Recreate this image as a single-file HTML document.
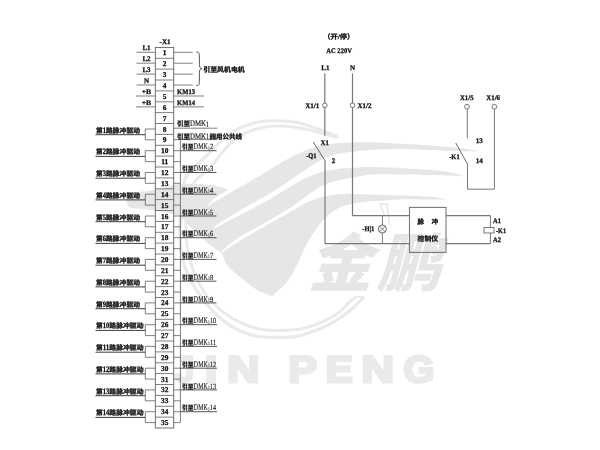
<!DOCTYPE html>
<html lang="zh"><head><meta charset="utf-8"><title>接线图</title>
<style>
html,body{margin:0;padding:0;background:#fff}
body{width:600px;height:450px;overflow:hidden}
svg{display:block;text-rendering:geometricPrecision}
.s{font-family:"Liberation Serif","Noto Serif CJK SC",serif;font-weight:bold;fill:#0a0a0a;stroke:#0a0a0a;stroke-width:0.25}
.c{font-family:"Liberation Serif","Noto Sans CJK SC",sans-serif;font-weight:bold;fill:#0a0a0a;stroke:#0a0a0a;stroke-width:0.28}
.wk{font-family:"Noto Sans CJK SC",sans-serif;font-weight:900}
.wj{font-family:"Liberation Sans",sans-serif;font-weight:bold}
.t{font-family:"Liberation Serif",serif;font-weight:normal;fill:#1a1a1a;stroke:#1a1a1a;stroke-width:0.18}
</style></head><body>
<svg width="600" height="450" viewBox="0 0 600 450">
<rect width="600" height="450" fill="#fff"/>
<g id="wm" filter="url(#soft2)">
<path d="M364.0,297.0 C362.2,298.8 357.0,304.5 353.0,308.0 C349.0,311.5 345.0,314.8 340.0,318.0 C335.0,321.2 328.6,324.9 323.0,327.5 C317.4,330.1 311.4,332.0 306.7,333.5 C302.0,335.0 301.1,336.0 295.0,336.6 C288.9,337.2 277.5,337.6 270.0,337.3 C262.5,337.0 256.4,336.4 250.0,334.6 C243.6,332.8 237.2,330.0 231.7,326.7 C226.1,323.4 221.1,319.2 216.7,315.0 C212.2,310.8 208.6,306.2 205.0,301.7 C201.4,297.2 197.7,292.1 195.0,288.0 C192.3,283.9 191.0,281.5 189.0,277.0 C187.0,272.5 184.4,266.3 183.0,261.0 C181.6,255.7 181.0,250.5 180.5,245.0 C180.0,239.5 179.9,233.5 180.0,228.0 C180.1,222.5 180.6,217.5 181.0,212.0 C181.4,206.5 181.8,200.5 182.5,195.0 C183.2,189.5 182.9,183.7 185.0,179.0 C187.1,174.3 191.7,170.3 195.0,166.7 C198.3,163.1 201.3,161.1 205.0,157.5 C208.7,153.9 212.3,149.3 217.0,145.0 C221.7,140.7 227.5,135.2 233.0,131.7 C238.5,128.2 244.3,125.8 250.0,124.0 C255.7,122.2 261.5,121.5 267.0,121.0 C272.5,120.5 277.5,120.7 283.0,121.0 C288.5,121.3 295.2,122.0 300.0,123.0 C304.8,124.0 307.8,125.6 312.0,127.0 C316.2,128.4 320.7,129.8 325.0,131.5 C329.3,133.2 335.8,136.1 338.0,137.0 " fill="none" stroke="#e9ebeb" stroke-width="3.2" stroke-linecap="butt"/>
<path d="M356.0,297.0 C355.0,297.8 352.7,299.2 350.0,301.7 C347.3,304.1 344.5,308.4 340.0,311.7 C335.5,315.0 328.6,319.1 323.0,321.7 C317.4,324.3 311.4,326.1 306.7,327.5 C302.0,328.9 301.1,329.3 295.0,329.8 C288.9,330.3 277.5,330.9 270.0,330.3 C262.5,329.8 256.4,328.6 250.0,326.5 C243.6,324.4 237.2,321.3 231.7,318.0 C226.1,314.7 221.1,310.9 216.7,306.7 C212.2,302.5 208.3,297.6 205.0,293.0 C201.7,288.4 199.4,284.2 197.0,279.0 C194.6,273.8 192.2,267.7 190.5,262.0 C188.8,256.3 187.8,250.7 187.0,245.0 C186.2,239.3 186.1,233.5 186.0,228.0 C185.9,222.5 186.2,217.2 186.5,212.0 C186.8,206.8 187.1,201.3 188.0,197.0 C188.9,192.7 190.3,189.2 192.0,186.0 C193.7,182.8 195.0,181.0 198.0,178.0 C201.0,175.0 206.2,172.0 210.0,168.0 C213.8,164.0 217.2,158.5 221.0,154.0 C224.8,149.5 228.2,144.8 233.0,141.0 C237.8,137.2 244.3,133.4 250.0,131.0 C255.7,128.6 261.5,127.5 267.0,126.7 C272.5,125.9 277.5,125.8 283.0,126.0 C288.5,126.2 294.3,127.0 300.0,128.0 C305.7,129.0 310.7,130.4 317.0,132.0 C323.3,133.6 334.5,136.6 338.0,137.5 " fill="none" stroke="#e9ebeb" stroke-width="3.0" stroke-linecap="butt"/>
<path d="M356,297 L364.5,297" stroke="#e4e7e6" stroke-width="1.6" fill="none"/>
<path d="M204.0,208.5 C208.2,206.0 221.3,198.0 229.0,193.5 C236.7,189.0 243.2,185.5 250.0,181.5 C256.8,177.5 263.9,173.2 270.0,169.5 C276.1,165.8 281.2,162.5 286.7,159.5 C292.2,156.5 297.4,153.8 303.0,151.5 C308.6,149.2 314.4,147.2 320.0,145.8 C325.6,144.4 331.2,143.9 336.7,143.3 C342.2,142.8 347.4,142.7 353.0,142.5 C358.6,142.3 362.2,142.1 370.0,142.3 C377.8,142.5 390.0,143.3 400.0,143.8 C410.0,144.3 420.8,144.9 430.0,145.5 C439.2,146.1 447.0,146.6 455.0,147.5 C463.0,148.4 474.2,150.3 478.0,150.9 L478.0,151.3 C474.2,151.3 463.0,151.3 455.0,151.1 C447.0,150.9 439.2,150.3 430.0,149.9 C420.8,149.5 410.0,148.9 400.0,148.9 C390.0,148.9 377.8,149.4 370.0,149.9 C362.2,150.4 358.6,151.0 353.0,151.7 C347.4,152.4 341.4,152.9 336.7,154.0 C332.0,155.1 329.2,156.0 325.0,158.0 C320.8,160.0 315.4,163.6 311.7,165.8 C308.0,168.1 305.8,169.7 303.0,171.5 C300.2,173.3 297.8,174.8 295.0,176.7 C292.2,178.6 288.8,181.1 286.0,183.0 C283.2,184.9 281.0,186.6 278.3,188.3 C275.6,190.1 276.4,189.8 270.0,193.5 C263.6,197.2 249.5,204.9 240.0,210.5 C230.5,216.1 217.5,224.2 213.0,227.0 Z" fill="#e4e7e6"/>
<path d="M213.0,229.0 C217.5,226.7 230.5,220.0 240.0,215.0 C249.5,210.0 262.2,203.3 270.0,199.0 C277.8,194.7 281.2,192.3 286.7,189.0 C292.2,185.7 297.4,182.1 303.0,179.3 C308.6,176.6 314.4,174.2 320.0,172.5 C325.6,170.8 331.2,169.8 336.7,169.0 C342.2,168.2 347.4,168.3 353.0,168.0 C358.6,167.7 362.2,167.1 370.0,167.1 C377.8,167.1 390.0,167.5 400.0,168.0 C410.0,168.5 421.7,169.3 430.0,170.0 C438.3,170.7 444.5,171.3 450.0,172.3 C455.5,173.3 460.8,175.3 463.0,175.9 L463.0,176.3 C460.8,176.2 455.5,176.0 450.0,175.8 C444.5,175.6 438.3,175.3 430.0,175.1 C421.7,174.9 410.0,174.6 400.0,174.5 C390.0,174.4 377.8,174.2 370.0,174.7 C362.2,175.2 358.6,176.5 353.0,177.5 C347.4,178.5 342.2,179.3 336.7,180.8 C331.2,182.3 325.0,184.2 320.0,186.7 C315.0,189.2 311.2,192.8 306.7,196.0 C302.2,199.2 297.4,203.0 293.0,206.0 C288.6,209.0 284.4,211.3 280.0,214.0 C275.6,216.7 273.4,218.2 266.7,222.0 C260.0,225.8 247.4,231.9 240.0,236.7 C232.6,241.4 225.0,248.2 222.0,250.5 Z" fill="#e4e7e6"/>
<path d="M222.0,252.5 C225.0,250.5 233.7,244.6 240.0,240.7 C246.3,236.8 253.9,232.5 260.0,229.0 C266.1,225.5 271.2,222.6 276.7,219.5 C282.2,216.4 287.4,213.6 293.0,210.5 C298.6,207.4 304.4,203.4 310.0,201.0 C315.6,198.6 321.2,197.2 326.7,196.0 C332.2,194.8 337.4,194.3 343.0,194.0 C348.6,193.7 350.5,193.9 360.0,194.2 C369.5,194.4 388.3,195.1 400.0,195.5 C411.7,195.9 422.2,196.2 430.0,196.8 C437.8,197.4 444.2,198.9 447.0,199.3 L447.0,199.7 C444.2,199.7 437.8,199.6 430.0,199.6 C422.2,199.6 409.2,199.2 400.0,199.4 C390.8,199.6 381.7,200.5 375.0,201.0 C368.3,201.5 364.7,201.8 360.0,202.5 C355.3,203.2 350.9,203.8 346.7,205.0 C342.5,206.2 338.6,207.8 335.0,210.0 C331.4,212.2 327.8,215.5 325.0,218.3 C322.2,221.1 320.5,223.4 318.0,226.7 C315.5,230.0 312.5,234.1 310.0,238.3 C307.5,242.5 305.2,247.2 303.0,251.7 C300.8,256.1 299.7,259.9 297.0,265.0 C294.3,270.1 291.2,276.8 287.0,282.0 C282.8,287.2 274.5,293.7 272.0,296.0 L272.0,296.0 C269.5,295.0 262.3,293.2 257.0,290.0 C251.7,286.8 245.0,281.2 240.0,277.0 C235.0,272.8 230.0,269.1 227.0,265.0 C224.0,260.9 222.8,254.6 222.0,252.5 Z" fill="#e4e7e6"/>
<path d="M127.0,200.0 C127.5,199.0 127.0,195.3 130.0,194.0 C133.0,192.7 140.0,192.8 145.0,192.0 C150.0,191.2 155.2,190.6 160.0,189.5 C164.8,188.4 170.2,186.3 174.0,185.5 C177.8,184.7 177.8,184.6 183.0,184.5 C188.2,184.4 199.2,184.6 205.0,185.0 C210.8,185.4 214.3,186.2 218.0,187.0 C221.7,187.8 225.5,189.5 227.0,190.0 L227.0,190.0 C225.0,191.2 218.8,193.9 215.0,197.0 C211.2,200.1 205.8,206.6 204.0,208.5 L204.0,208.5 C205.5,211.8 210.0,220.7 213.0,228.0 C216.0,235.3 220.5,248.4 222.0,252.5 L222.0,252.5 C218.8,250.2 209.8,244.4 203.0,238.5 C196.2,232.6 185.8,221.1 181.0,217.0 C176.2,212.9 177.5,215.1 174.0,214.0 C170.5,212.9 164.8,211.4 160.0,210.5 C155.2,209.6 150.0,209.2 145.0,208.5 C140.0,207.8 133.0,207.9 130.0,206.5 C127.0,205.1 127.5,201.1 127.0,200.0 Z" fill="#e4e7e6" stroke="#e4e7e6" stroke-width="1.4" stroke-linejoin="round"/>
<path d="M384.8,216 L380,204 L387.2,204 L389.3,224.5" fill="none" stroke="#e4e7e6" stroke-width="1.5"/>
<text transform="translate(308,285.5) skewX(-15) scale(0.64,0.63)" x="0" y="0" font-size="100" class="wk" fill="#e4e7e6">金<tspan dx="7">鹏</tspan></text>
<text y="0" font-size="100" class="wj" fill="#e9ebeb" stroke="#e9ebeb" stroke-width="7.5" stroke-linejoin="miter" transform="translate(0,381.6) scale(1,0.3725)"><tspan x="175.1" textLength="19.4" lengthAdjust="spacingAndGlyphs">J</tspan><tspan x="205.1" textLength="12.3" lengthAdjust="spacingAndGlyphs">I</tspan><tspan x="227.2" textLength="32.3" lengthAdjust="spacingAndGlyphs">N</tspan><tspan x="270.0"> </tspan><tspan x="288.3" textLength="28.7" lengthAdjust="spacingAndGlyphs">P</tspan><tspan x="325.7" textLength="26.9" lengthAdjust="spacingAndGlyphs">E</tspan><tspan x="361.5" textLength="32.5" lengthAdjust="spacingAndGlyphs">N</tspan><tspan x="403.4" textLength="30.9" lengthAdjust="spacingAndGlyphs">G</tspan></text>
</g>
<g id="fg" filter="url(#soft)">
<rect x="155.3" y="47.4" width="18.4" height="380.6" fill="none" stroke="#606060" stroke-width="0.9"/>
<line x1="155.3" y1="58.3" x2="173.7" y2="58.3" stroke="#606060" stroke-width="0.8"/>
<line x1="155.3" y1="69.1" x2="173.7" y2="69.1" stroke="#606060" stroke-width="0.8"/>
<line x1="155.3" y1="80.0" x2="173.7" y2="80.0" stroke="#606060" stroke-width="0.8"/>
<line x1="155.3" y1="90.9" x2="173.7" y2="90.9" stroke="#606060" stroke-width="0.8"/>
<line x1="155.3" y1="101.8" x2="173.7" y2="101.8" stroke="#606060" stroke-width="0.8"/>
<line x1="155.3" y1="112.6" x2="173.7" y2="112.6" stroke="#606060" stroke-width="0.8"/>
<line x1="155.3" y1="123.5" x2="173.7" y2="123.5" stroke="#606060" stroke-width="0.8"/>
<line x1="155.3" y1="134.4" x2="173.7" y2="134.4" stroke="#606060" stroke-width="0.8"/>
<line x1="155.3" y1="145.3" x2="173.7" y2="145.3" stroke="#606060" stroke-width="0.8"/>
<line x1="155.3" y1="156.1" x2="173.7" y2="156.1" stroke="#606060" stroke-width="0.8"/>
<line x1="155.3" y1="167.0" x2="173.7" y2="167.0" stroke="#606060" stroke-width="0.8"/>
<line x1="155.3" y1="177.9" x2="173.7" y2="177.9" stroke="#606060" stroke-width="0.8"/>
<line x1="155.3" y1="188.8" x2="173.7" y2="188.8" stroke="#606060" stroke-width="0.8"/>
<line x1="155.3" y1="199.6" x2="173.7" y2="199.6" stroke="#606060" stroke-width="0.8"/>
<line x1="155.3" y1="210.5" x2="173.7" y2="210.5" stroke="#606060" stroke-width="0.8"/>
<line x1="155.3" y1="221.4" x2="173.7" y2="221.4" stroke="#606060" stroke-width="0.8"/>
<line x1="155.3" y1="232.3" x2="173.7" y2="232.3" stroke="#606060" stroke-width="0.8"/>
<line x1="155.3" y1="243.1" x2="173.7" y2="243.1" stroke="#606060" stroke-width="0.8"/>
<line x1="155.3" y1="254.0" x2="173.7" y2="254.0" stroke="#606060" stroke-width="0.8"/>
<line x1="155.3" y1="264.9" x2="173.7" y2="264.9" stroke="#606060" stroke-width="0.8"/>
<line x1="155.3" y1="275.8" x2="173.7" y2="275.8" stroke="#606060" stroke-width="0.8"/>
<line x1="155.3" y1="286.6" x2="173.7" y2="286.6" stroke="#606060" stroke-width="0.8"/>
<line x1="155.3" y1="297.5" x2="173.7" y2="297.5" stroke="#606060" stroke-width="0.8"/>
<line x1="155.3" y1="308.4" x2="173.7" y2="308.4" stroke="#606060" stroke-width="0.8"/>
<line x1="155.3" y1="319.3" x2="173.7" y2="319.3" stroke="#606060" stroke-width="0.8"/>
<line x1="155.3" y1="330.1" x2="173.7" y2="330.1" stroke="#606060" stroke-width="0.8"/>
<line x1="155.3" y1="341.0" x2="173.7" y2="341.0" stroke="#606060" stroke-width="0.8"/>
<line x1="155.3" y1="351.9" x2="173.7" y2="351.9" stroke="#606060" stroke-width="0.8"/>
<line x1="155.3" y1="362.8" x2="173.7" y2="362.8" stroke="#606060" stroke-width="0.8"/>
<line x1="155.3" y1="373.6" x2="173.7" y2="373.6" stroke="#606060" stroke-width="0.8"/>
<line x1="155.3" y1="384.5" x2="173.7" y2="384.5" stroke="#606060" stroke-width="0.8"/>
<line x1="155.3" y1="395.4" x2="173.7" y2="395.4" stroke="#606060" stroke-width="0.8"/>
<line x1="155.3" y1="406.3" x2="173.7" y2="406.3" stroke="#606060" stroke-width="0.8"/>
<line x1="155.3" y1="417.1" x2="173.7" y2="417.1" stroke="#606060" stroke-width="0.8"/>
<text x="164.7" y="55.3" font-size="7.4" text-anchor="middle" class="s">1</text>
<text x="164.7" y="66.2" font-size="7.4" text-anchor="middle" class="s">2</text>
<text x="164.7" y="77.1" font-size="7.4" text-anchor="middle" class="s">3</text>
<text x="164.7" y="88.0" font-size="7.4" text-anchor="middle" class="s">4</text>
<text x="164.7" y="98.8" font-size="7.4" text-anchor="middle" class="s">5</text>
<text x="164.7" y="109.7" font-size="7.4" text-anchor="middle" class="s">6</text>
<text x="164.7" y="120.6" font-size="7.4" text-anchor="middle" class="s">7</text>
<text x="164.7" y="131.5" font-size="7.4" text-anchor="middle" class="s">8</text>
<text x="164.7" y="142.3" font-size="7.4" text-anchor="middle" class="s">9</text>
<text x="164.7" y="153.2" font-size="7.4" text-anchor="middle" class="s">10</text>
<text x="164.7" y="164.1" font-size="7.4" text-anchor="middle" class="s">11</text>
<text x="164.7" y="175.0" font-size="7.4" text-anchor="middle" class="s">12</text>
<text x="164.7" y="185.8" font-size="7.4" text-anchor="middle" class="s">13</text>
<text x="164.7" y="196.7" font-size="7.4" text-anchor="middle" class="s">14</text>
<text x="164.7" y="207.6" font-size="7.4" text-anchor="middle" class="s">15</text>
<text x="164.7" y="218.5" font-size="7.4" text-anchor="middle" class="s">16</text>
<text x="164.7" y="229.3" font-size="7.4" text-anchor="middle" class="s">17</text>
<text x="164.7" y="240.2" font-size="7.4" text-anchor="middle" class="s">18</text>
<text x="164.7" y="251.1" font-size="7.4" text-anchor="middle" class="s">19</text>
<text x="164.7" y="261.9" font-size="7.4" text-anchor="middle" class="s">20</text>
<text x="164.7" y="272.8" font-size="7.4" text-anchor="middle" class="s">21</text>
<text x="164.7" y="283.7" font-size="7.4" text-anchor="middle" class="s">22</text>
<text x="164.7" y="294.6" font-size="7.4" text-anchor="middle" class="s">23</text>
<text x="164.7" y="305.4" font-size="7.4" text-anchor="middle" class="s">24</text>
<text x="164.7" y="316.3" font-size="7.4" text-anchor="middle" class="s">25</text>
<text x="164.7" y="327.2" font-size="7.4" text-anchor="middle" class="s">26</text>
<text x="164.7" y="338.1" font-size="7.4" text-anchor="middle" class="s">27</text>
<text x="164.7" y="348.9" font-size="7.4" text-anchor="middle" class="s">28</text>
<text x="164.7" y="359.8" font-size="7.4" text-anchor="middle" class="s">29</text>
<text x="164.7" y="370.7" font-size="7.4" text-anchor="middle" class="s">30</text>
<text x="164.7" y="381.6" font-size="7.4" text-anchor="middle" class="s">31</text>
<text x="164.7" y="392.4" font-size="7.4" text-anchor="middle" class="s">32</text>
<text x="164.7" y="403.3" font-size="7.4" text-anchor="middle" class="s">33</text>
<text x="164.7" y="414.2" font-size="7.4" text-anchor="middle" class="s">34</text>
<text x="164.7" y="425.1" font-size="7.4" text-anchor="middle" class="s">35</text>
<text x="165.0" y="44.4" font-size="7" text-anchor="middle" class="s">-X1</text>
<line x1="136.5" y1="52.3" x2="155.3" y2="52.3" stroke="#606060" stroke-width="0.8"/>
<line x1="173.7" y1="52.3" x2="192.7" y2="52.3" stroke="#606060" stroke-width="0.8"/>
<text x="146.5" y="50.0" font-size="7" text-anchor="middle" class="s">L1</text>
<line x1="136.5" y1="63.2" x2="155.3" y2="63.2" stroke="#606060" stroke-width="0.8"/>
<line x1="173.7" y1="63.2" x2="192.7" y2="63.2" stroke="#606060" stroke-width="0.8"/>
<text x="146.5" y="60.9" font-size="7" text-anchor="middle" class="s">L2</text>
<line x1="136.5" y1="74.1" x2="155.3" y2="74.1" stroke="#606060" stroke-width="0.8"/>
<line x1="173.7" y1="74.1" x2="192.7" y2="74.1" stroke="#606060" stroke-width="0.8"/>
<text x="146.5" y="71.8" font-size="7" text-anchor="middle" class="s">L3</text>
<line x1="136.5" y1="85.0" x2="155.3" y2="85.0" stroke="#606060" stroke-width="0.8"/>
<line x1="173.7" y1="85.0" x2="192.7" y2="85.0" stroke="#606060" stroke-width="0.8"/>
<text x="146.5" y="82.7" font-size="7" text-anchor="middle" class="s">N</text>
<line x1="136.0" y1="96.0" x2="155.3" y2="96.0" stroke="#606060" stroke-width="0.8"/>
<line x1="173.7" y1="96.0" x2="204.0" y2="96.0" stroke="#606060" stroke-width="0.8"/>
<text x="146.5" y="93.8" font-size="7" text-anchor="middle" class="s" textLength="9.4" lengthAdjust="spacingAndGlyphs">+B</text>
<text x="177.0" y="94.2" font-size="7" text-anchor="start" class="s" textLength="18.0" lengthAdjust="spacingAndGlyphs">KM13</text>
<line x1="136.0" y1="106.9" x2="155.3" y2="106.9" stroke="#606060" stroke-width="0.8"/>
<line x1="173.7" y1="106.9" x2="204.0" y2="106.9" stroke="#606060" stroke-width="0.8"/>
<text x="146.5" y="104.7" font-size="7" text-anchor="middle" class="s" textLength="9.4" lengthAdjust="spacingAndGlyphs">+B</text>
<text x="177.0" y="105.1" font-size="7" text-anchor="start" class="s" textLength="18.0" lengthAdjust="spacingAndGlyphs">KM14</text>
<path d="M196.2,52 C199.4,52 199.4,53.5 199.4,56 L199.4,64.5 C199.4,67 200,68.3 202,68.6 C200,68.9 199.4,70.2 199.4,72.7 L199.4,81.5 C199.4,84 199.4,85.6 196.2,85.6" fill="none" stroke="#444" stroke-width="0.9"/>
<text x="203.3" y="71.6" font-size="6.9" text-anchor="start" class="c" textLength="41.4" lengthAdjust="spacingAndGlyphs">引至风机电机</text>
<polyline points="155.3,129.0 145.3,129.0 145.3,139.8 155.3,139.8" fill="none" stroke="#606060" stroke-width="0.8"/>
<line x1="95.5" y1="134.7" x2="145.3" y2="134.7" stroke="#3c3c3c" stroke-width="1.0"/>
<text x="96" y="132.7" class="c" font-size="6.7"><tspan textLength="6.7" lengthAdjust="spacingAndGlyphs">第</tspan><tspan class="s" font-size="8.2" textLength="3.3" lengthAdjust="spacingAndGlyphs">1</tspan><tspan textLength="34.0" lengthAdjust="spacingAndGlyphs">路脉冲驱动</tspan></text>
<polyline points="155.3,150.7 145.3,150.7 145.3,161.6 155.3,161.6" fill="none" stroke="#606060" stroke-width="0.8"/>
<line x1="95.5" y1="156.4" x2="145.3" y2="156.4" stroke="#3c3c3c" stroke-width="1.0"/>
<text x="96" y="154.4" class="c" font-size="6.7"><tspan textLength="6.7" lengthAdjust="spacingAndGlyphs">第</tspan><tspan class="s" font-size="8.2" textLength="3.3" lengthAdjust="spacingAndGlyphs">2</tspan><tspan textLength="34.0" lengthAdjust="spacingAndGlyphs">路脉冲驱动</tspan></text>
<polyline points="155.3,172.5 145.3,172.5 145.3,183.3 155.3,183.3" fill="none" stroke="#606060" stroke-width="0.8"/>
<line x1="95.5" y1="178.2" x2="145.3" y2="178.2" stroke="#3c3c3c" stroke-width="1.0"/>
<text x="96" y="176.2" class="c" font-size="6.7"><tspan textLength="6.7" lengthAdjust="spacingAndGlyphs">第</tspan><tspan class="s" font-size="8.2" textLength="3.3" lengthAdjust="spacingAndGlyphs">3</tspan><tspan textLength="34.0" lengthAdjust="spacingAndGlyphs">路脉冲驱动</tspan></text>
<polyline points="155.3,194.2 145.3,194.2 145.3,205.1 155.3,205.1" fill="none" stroke="#606060" stroke-width="0.8"/>
<line x1="95.5" y1="199.9" x2="145.3" y2="199.9" stroke="#3c3c3c" stroke-width="1.0"/>
<text x="96" y="197.9" class="c" font-size="6.7"><tspan textLength="6.7" lengthAdjust="spacingAndGlyphs">第</tspan><tspan class="s" font-size="8.2" textLength="3.3" lengthAdjust="spacingAndGlyphs">4</tspan><tspan textLength="34.0" lengthAdjust="spacingAndGlyphs">路脉冲驱动</tspan></text>
<polyline points="155.3,216.0 145.3,216.0 145.3,226.8 155.3,226.8" fill="none" stroke="#606060" stroke-width="0.8"/>
<line x1="95.5" y1="221.7" x2="145.3" y2="221.7" stroke="#3c3c3c" stroke-width="1.0"/>
<text x="96" y="219.7" class="c" font-size="6.7"><tspan textLength="6.7" lengthAdjust="spacingAndGlyphs">第</tspan><tspan class="s" font-size="8.2" textLength="3.3" lengthAdjust="spacingAndGlyphs">5</tspan><tspan textLength="34.0" lengthAdjust="spacingAndGlyphs">路脉冲驱动</tspan></text>
<polyline points="155.3,237.7 145.3,237.7 145.3,248.6 155.3,248.6" fill="none" stroke="#606060" stroke-width="0.8"/>
<line x1="95.5" y1="243.4" x2="145.3" y2="243.4" stroke="#3c3c3c" stroke-width="1.0"/>
<text x="96" y="241.4" class="c" font-size="6.7"><tspan textLength="6.7" lengthAdjust="spacingAndGlyphs">第</tspan><tspan class="s" font-size="8.2" textLength="3.3" lengthAdjust="spacingAndGlyphs">6</tspan><tspan textLength="34.0" lengthAdjust="spacingAndGlyphs">路脉冲驱动</tspan></text>
<polyline points="155.3,259.4 145.3,259.4 145.3,270.3 155.3,270.3" fill="none" stroke="#606060" stroke-width="0.8"/>
<line x1="95.5" y1="265.2" x2="145.3" y2="265.2" stroke="#3c3c3c" stroke-width="1.0"/>
<text x="96" y="263.2" class="c" font-size="6.7"><tspan textLength="6.7" lengthAdjust="spacingAndGlyphs">第</tspan><tspan class="s" font-size="8.2" textLength="3.3" lengthAdjust="spacingAndGlyphs">7</tspan><tspan textLength="34.0" lengthAdjust="spacingAndGlyphs">路脉冲驱动</tspan></text>
<polyline points="155.3,281.2 145.3,281.2 145.3,292.1 155.3,292.1" fill="none" stroke="#606060" stroke-width="0.8"/>
<line x1="95.5" y1="286.9" x2="145.3" y2="286.9" stroke="#3c3c3c" stroke-width="1.0"/>
<text x="96" y="284.9" class="c" font-size="6.7"><tspan textLength="6.7" lengthAdjust="spacingAndGlyphs">第</tspan><tspan class="s" font-size="8.2" textLength="3.3" lengthAdjust="spacingAndGlyphs">8</tspan><tspan textLength="34.0" lengthAdjust="spacingAndGlyphs">路脉冲驱动</tspan></text>
<polyline points="155.3,302.9 145.3,302.9 145.3,313.8 155.3,313.8" fill="none" stroke="#606060" stroke-width="0.8"/>
<line x1="95.5" y1="308.7" x2="145.3" y2="308.7" stroke="#3c3c3c" stroke-width="1.0"/>
<text x="96" y="306.7" class="c" font-size="6.7"><tspan textLength="6.7" lengthAdjust="spacingAndGlyphs">第</tspan><tspan class="s" font-size="8.2" textLength="3.3" lengthAdjust="spacingAndGlyphs">9</tspan><tspan textLength="34.0" lengthAdjust="spacingAndGlyphs">路脉冲驱动</tspan></text>
<polyline points="155.3,324.7 145.3,324.7 145.3,335.6 155.3,335.6" fill="none" stroke="#606060" stroke-width="0.8"/>
<line x1="95.5" y1="330.4" x2="145.3" y2="330.4" stroke="#3c3c3c" stroke-width="1.0"/>
<text x="96" y="328.4" class="c" font-size="6.7"><tspan textLength="6.7" lengthAdjust="spacingAndGlyphs">第</tspan><tspan class="s" font-size="8.2" textLength="6.6" lengthAdjust="spacingAndGlyphs">10</tspan><tspan textLength="34.2" lengthAdjust="spacingAndGlyphs">路脉冲驱动</tspan></text>
<polyline points="155.3,346.4 145.3,346.4 145.3,357.3 155.3,357.3" fill="none" stroke="#606060" stroke-width="0.8"/>
<line x1="95.5" y1="352.2" x2="145.3" y2="352.2" stroke="#3c3c3c" stroke-width="1.0"/>
<text x="96" y="350.2" class="c" font-size="6.7"><tspan textLength="6.7" lengthAdjust="spacingAndGlyphs">第</tspan><tspan class="s" font-size="8.2" textLength="6.6" lengthAdjust="spacingAndGlyphs">11</tspan><tspan textLength="34.2" lengthAdjust="spacingAndGlyphs">路脉冲驱动</tspan></text>
<polyline points="155.3,368.2 145.3,368.2 145.3,379.1 155.3,379.1" fill="none" stroke="#606060" stroke-width="0.8"/>
<line x1="95.5" y1="373.9" x2="145.3" y2="373.9" stroke="#3c3c3c" stroke-width="1.0"/>
<text x="96" y="371.9" class="c" font-size="6.7"><tspan textLength="6.7" lengthAdjust="spacingAndGlyphs">第</tspan><tspan class="s" font-size="8.2" textLength="6.6" lengthAdjust="spacingAndGlyphs">12</tspan><tspan textLength="34.2" lengthAdjust="spacingAndGlyphs">路脉冲驱动</tspan></text>
<polyline points="155.3,389.9 145.3,389.9 145.3,400.8 155.3,400.8" fill="none" stroke="#606060" stroke-width="0.8"/>
<line x1="95.5" y1="395.7" x2="145.3" y2="395.7" stroke="#3c3c3c" stroke-width="1.0"/>
<text x="96" y="393.7" class="c" font-size="6.7"><tspan textLength="6.7" lengthAdjust="spacingAndGlyphs">第</tspan><tspan class="s" font-size="8.2" textLength="6.6" lengthAdjust="spacingAndGlyphs">13</tspan><tspan textLength="34.2" lengthAdjust="spacingAndGlyphs">路脉冲驱动</tspan></text>
<polyline points="155.3,411.7 145.3,411.7 145.3,422.6 155.3,422.6" fill="none" stroke="#606060" stroke-width="0.8"/>
<line x1="95.5" y1="417.4" x2="145.3" y2="417.4" stroke="#3c3c3c" stroke-width="1.0"/>
<text x="96" y="415.4" class="c" font-size="6.7"><tspan textLength="6.7" lengthAdjust="spacingAndGlyphs">第</tspan><tspan class="s" font-size="8.2" textLength="6.6" lengthAdjust="spacingAndGlyphs">14</tspan><tspan textLength="34.2" lengthAdjust="spacingAndGlyphs">路脉冲驱动</tspan></text>
<line x1="173.7" y1="128.2" x2="217.3" y2="128.2" stroke="#606060" stroke-width="0.8"/>
<text x="177" y="126.3" class="c" font-size="6.6"><tspan textLength="13" lengthAdjust="spacingAndGlyphs">引至</tspan><tspan class="t" font-size="8.6" textLength="16" lengthAdjust="spacingAndGlyphs">DMK</tspan><tspan class="t" font-size="8.4" dy="0.5" textLength="3" lengthAdjust="spacingAndGlyphs">1</tspan></text>
<line x1="173.7" y1="139.6" x2="216.0" y2="139.6" stroke="#606060" stroke-width="0.8"/>
<text x="177" y="138.7" class="c" font-size="6.6"><tspan textLength="13" lengthAdjust="spacingAndGlyphs">引至</tspan><tspan class="t" font-size="8.6" textLength="16" lengthAdjust="spacingAndGlyphs">DMK</tspan><tspan class="t" font-size="8.4" dy="0.5" textLength="3" lengthAdjust="spacingAndGlyphs">1</tspan><tspan dy="-0.5" dx="0.4" textLength="32.5" lengthAdjust="spacingAndGlyphs">阀用公共线</tspan></text>
<line x1="180.4" y1="139.6" x2="180.4" y2="422.6" stroke="#606060" stroke-width="0.8"/>
<line x1="173.7" y1="150.7" x2="180.4" y2="150.7" stroke="#606060" stroke-width="0.8"/>
<line x1="173.7" y1="161.6" x2="180.4" y2="161.6" stroke="#606060" stroke-width="0.8"/>
<line x1="173.7" y1="172.5" x2="180.4" y2="172.5" stroke="#606060" stroke-width="0.8"/>
<line x1="173.7" y1="183.3" x2="180.4" y2="183.3" stroke="#606060" stroke-width="0.8"/>
<line x1="173.7" y1="194.2" x2="180.4" y2="194.2" stroke="#606060" stroke-width="0.8"/>
<line x1="173.7" y1="205.1" x2="180.4" y2="205.1" stroke="#606060" stroke-width="0.8"/>
<line x1="173.7" y1="216.0" x2="180.4" y2="216.0" stroke="#606060" stroke-width="0.8"/>
<line x1="173.7" y1="226.8" x2="180.4" y2="226.8" stroke="#606060" stroke-width="0.8"/>
<line x1="173.7" y1="237.7" x2="180.4" y2="237.7" stroke="#606060" stroke-width="0.8"/>
<line x1="173.7" y1="248.6" x2="180.4" y2="248.6" stroke="#606060" stroke-width="0.8"/>
<line x1="173.7" y1="259.4" x2="180.4" y2="259.4" stroke="#606060" stroke-width="0.8"/>
<line x1="173.7" y1="270.3" x2="180.4" y2="270.3" stroke="#606060" stroke-width="0.8"/>
<line x1="173.7" y1="281.2" x2="180.4" y2="281.2" stroke="#606060" stroke-width="0.8"/>
<line x1="173.7" y1="292.1" x2="180.4" y2="292.1" stroke="#606060" stroke-width="0.8"/>
<line x1="173.7" y1="302.9" x2="180.4" y2="302.9" stroke="#606060" stroke-width="0.8"/>
<line x1="173.7" y1="313.8" x2="180.4" y2="313.8" stroke="#606060" stroke-width="0.8"/>
<line x1="173.7" y1="324.7" x2="180.4" y2="324.7" stroke="#606060" stroke-width="0.8"/>
<line x1="173.7" y1="335.6" x2="180.4" y2="335.6" stroke="#606060" stroke-width="0.8"/>
<line x1="173.7" y1="346.4" x2="180.4" y2="346.4" stroke="#606060" stroke-width="0.8"/>
<line x1="173.7" y1="357.3" x2="180.4" y2="357.3" stroke="#606060" stroke-width="0.8"/>
<line x1="173.7" y1="368.2" x2="180.4" y2="368.2" stroke="#606060" stroke-width="0.8"/>
<line x1="173.7" y1="379.1" x2="180.4" y2="379.1" stroke="#606060" stroke-width="0.8"/>
<line x1="173.7" y1="389.9" x2="180.4" y2="389.9" stroke="#606060" stroke-width="0.8"/>
<line x1="173.7" y1="400.8" x2="180.4" y2="400.8" stroke="#606060" stroke-width="0.8"/>
<line x1="173.7" y1="411.7" x2="180.4" y2="411.7" stroke="#606060" stroke-width="0.8"/>
<line x1="173.7" y1="422.6" x2="180.4" y2="422.6" stroke="#606060" stroke-width="0.8"/>
<line x1="180.4" y1="150.7" x2="216.5" y2="150.7" stroke="#444" stroke-width="0.9"/>
<text x="182" y="149.4" class="c" font-size="6.4"><tspan textLength="11.5" lengthAdjust="spacingAndGlyphs">引至</tspan><tspan class="t" font-size="8.8" dx="0.3" textLength="14" lengthAdjust="spacingAndGlyphs">DMK</tspan><tspan class="t" font-size="5.4" dx="0.4" dy="0.3" textLength="1.4" lengthAdjust="spacingAndGlyphs">1</tspan><tspan class="t" font-size="7.8" dx="0.5" dy="-0.3" textLength="3.2" lengthAdjust="spacingAndGlyphs">2</tspan></text>
<line x1="180.4" y1="172.5" x2="216.5" y2="172.5" stroke="#444" stroke-width="0.9"/>
<text x="182" y="171.2" class="c" font-size="6.4"><tspan textLength="11.5" lengthAdjust="spacingAndGlyphs">引至</tspan><tspan class="t" font-size="8.8" dx="0.3" textLength="14" lengthAdjust="spacingAndGlyphs">DMK</tspan><tspan class="t" font-size="5.4" dx="0.4" dy="0.3" textLength="1.4" lengthAdjust="spacingAndGlyphs">1</tspan><tspan class="t" font-size="7.8" dx="0.5" dy="-0.3" textLength="3.2" lengthAdjust="spacingAndGlyphs">3</tspan></text>
<line x1="180.4" y1="194.2" x2="216.5" y2="194.2" stroke="#444" stroke-width="0.9"/>
<text x="182" y="192.9" class="c" font-size="6.4"><tspan textLength="11.5" lengthAdjust="spacingAndGlyphs">引至</tspan><tspan class="t" font-size="8.8" dx="0.3" textLength="14" lengthAdjust="spacingAndGlyphs">DMK</tspan><tspan class="t" font-size="5.4" dx="0.4" dy="0.3" textLength="1.4" lengthAdjust="spacingAndGlyphs">1</tspan><tspan class="t" font-size="7.8" dx="0.5" dy="-0.3" textLength="3.2" lengthAdjust="spacingAndGlyphs">4</tspan></text>
<line x1="180.4" y1="216.0" x2="216.5" y2="216.0" stroke="#444" stroke-width="0.9"/>
<text x="182" y="214.7" class="c" font-size="6.4"><tspan textLength="11.5" lengthAdjust="spacingAndGlyphs">引至</tspan><tspan class="t" font-size="8.8" dx="0.3" textLength="14" lengthAdjust="spacingAndGlyphs">DMK</tspan><tspan class="t" font-size="5.4" dx="0.4" dy="0.3" textLength="1.4" lengthAdjust="spacingAndGlyphs">1</tspan><tspan class="t" font-size="7.8" dx="0.5" dy="-0.3" textLength="3.2" lengthAdjust="spacingAndGlyphs">5</tspan></text>
<line x1="180.4" y1="237.7" x2="216.5" y2="237.7" stroke="#444" stroke-width="0.9"/>
<text x="182" y="236.4" class="c" font-size="6.4"><tspan textLength="11.5" lengthAdjust="spacingAndGlyphs">引至</tspan><tspan class="t" font-size="8.8" dx="0.3" textLength="14" lengthAdjust="spacingAndGlyphs">DMK</tspan><tspan class="t" font-size="5.4" dx="0.4" dy="0.3" textLength="1.4" lengthAdjust="spacingAndGlyphs">1</tspan><tspan class="t" font-size="7.8" dx="0.5" dy="-0.3" textLength="3.2" lengthAdjust="spacingAndGlyphs">6</tspan></text>
<line x1="180.4" y1="259.4" x2="216.5" y2="259.4" stroke="#444" stroke-width="0.9"/>
<text x="182" y="258.1" class="c" font-size="6.4"><tspan textLength="11.5" lengthAdjust="spacingAndGlyphs">引至</tspan><tspan class="t" font-size="8.8" dx="0.3" textLength="14" lengthAdjust="spacingAndGlyphs">DMK</tspan><tspan class="t" font-size="5.4" dx="0.4" dy="0.3" textLength="1.4" lengthAdjust="spacingAndGlyphs">1</tspan><tspan class="t" font-size="7.8" dx="0.5" dy="-0.3" textLength="3.2" lengthAdjust="spacingAndGlyphs">7</tspan></text>
<line x1="180.4" y1="281.2" x2="216.5" y2="281.2" stroke="#444" stroke-width="0.9"/>
<text x="182" y="279.9" class="c" font-size="6.4"><tspan textLength="11.5" lengthAdjust="spacingAndGlyphs">引至</tspan><tspan class="t" font-size="8.8" dx="0.3" textLength="14" lengthAdjust="spacingAndGlyphs">DMK</tspan><tspan class="t" font-size="5.4" dx="0.4" dy="0.3" textLength="1.4" lengthAdjust="spacingAndGlyphs">1</tspan><tspan class="t" font-size="7.8" dx="0.5" dy="-0.3" textLength="3.2" lengthAdjust="spacingAndGlyphs">8</tspan></text>
<line x1="180.4" y1="302.9" x2="216.5" y2="302.9" stroke="#444" stroke-width="0.9"/>
<text x="182" y="301.6" class="c" font-size="6.4"><tspan textLength="11.5" lengthAdjust="spacingAndGlyphs">引至</tspan><tspan class="t" font-size="8.8" dx="0.3" textLength="14" lengthAdjust="spacingAndGlyphs">DMK</tspan><tspan class="t" font-size="5.4" dx="0.4" dy="0.3" textLength="1.4" lengthAdjust="spacingAndGlyphs">1</tspan><tspan class="t" font-size="7.8" dx="0.5" dy="-0.3" textLength="3.2" lengthAdjust="spacingAndGlyphs">9</tspan></text>
<line x1="180.4" y1="324.7" x2="217.0" y2="324.7" stroke="#444" stroke-width="0.9"/>
<text x="182" y="323.4" class="c" font-size="6.4"><tspan textLength="11.5" lengthAdjust="spacingAndGlyphs">引至</tspan><tspan class="t" font-size="8.8" dx="0.3" textLength="14" lengthAdjust="spacingAndGlyphs">DMK</tspan><tspan class="t" font-size="5.4" dx="0.4" dy="0.3" textLength="1.4" lengthAdjust="spacingAndGlyphs">1</tspan><tspan class="t" font-size="7.8" dx="0.5" dy="-0.3" textLength="6.0" lengthAdjust="spacingAndGlyphs">10</tspan></text>
<line x1="180.4" y1="346.4" x2="217.0" y2="346.4" stroke="#444" stroke-width="0.9"/>
<text x="182" y="345.1" class="c" font-size="6.4"><tspan textLength="11.5" lengthAdjust="spacingAndGlyphs">引至</tspan><tspan class="t" font-size="8.8" dx="0.3" textLength="14" lengthAdjust="spacingAndGlyphs">DMK</tspan><tspan class="t" font-size="5.4" dx="0.4" dy="0.3" textLength="1.4" lengthAdjust="spacingAndGlyphs">1</tspan><tspan class="t" font-size="7.8" dx="0.5" dy="-0.3" textLength="6.0" lengthAdjust="spacingAndGlyphs">11</tspan></text>
<line x1="180.4" y1="368.2" x2="217.0" y2="368.2" stroke="#444" stroke-width="0.9"/>
<text x="182" y="366.9" class="c" font-size="6.4"><tspan textLength="11.5" lengthAdjust="spacingAndGlyphs">引至</tspan><tspan class="t" font-size="8.8" dx="0.3" textLength="14" lengthAdjust="spacingAndGlyphs">DMK</tspan><tspan class="t" font-size="5.4" dx="0.4" dy="0.3" textLength="1.4" lengthAdjust="spacingAndGlyphs">1</tspan><tspan class="t" font-size="7.8" dx="0.5" dy="-0.3" textLength="6.0" lengthAdjust="spacingAndGlyphs">12</tspan></text>
<line x1="180.4" y1="389.9" x2="217.0" y2="389.9" stroke="#444" stroke-width="0.9"/>
<text x="182" y="388.6" class="c" font-size="6.4"><tspan textLength="11.5" lengthAdjust="spacingAndGlyphs">引至</tspan><tspan class="t" font-size="8.8" dx="0.3" textLength="14" lengthAdjust="spacingAndGlyphs">DMK</tspan><tspan class="t" font-size="5.4" dx="0.4" dy="0.3" textLength="1.4" lengthAdjust="spacingAndGlyphs">1</tspan><tspan class="t" font-size="7.8" dx="0.5" dy="-0.3" textLength="6.0" lengthAdjust="spacingAndGlyphs">13</tspan></text>
<line x1="180.4" y1="411.7" x2="217.0" y2="411.7" stroke="#444" stroke-width="0.9"/>
<text x="182" y="410.4" class="c" font-size="6.4"><tspan textLength="11.5" lengthAdjust="spacingAndGlyphs">引至</tspan><tspan class="t" font-size="8.8" dx="0.3" textLength="14" lengthAdjust="spacingAndGlyphs">DMK</tspan><tspan class="t" font-size="5.4" dx="0.4" dy="0.3" textLength="1.4" lengthAdjust="spacingAndGlyphs">1</tspan><tspan class="t" font-size="7.8" dx="0.5" dy="-0.3" textLength="6.0" lengthAdjust="spacingAndGlyphs">14</tspan></text>
<text x="338.7" y="39.2" font-size="6.6" text-anchor="middle" class="c" textLength="31.0" lengthAdjust="spacingAndGlyphs">（开/停）</text>
<text x="339.1" y="53.0" font-size="7" text-anchor="middle" class="s" textLength="25.7" lengthAdjust="spacingAndGlyphs">AC 220V</text>
<text x="325.4" y="70.0" font-size="7" text-anchor="middle" class="s">L1</text>
<text x="352.5" y="70.0" font-size="7" text-anchor="middle" class="s">N</text>
<line x1="324.8" y1="73.3" x2="324.8" y2="135.8" stroke="#787878" stroke-width="1.2"/>
<line x1="352.5" y1="73.3" x2="352.5" y2="215.6" stroke="#787878" stroke-width="1.2"/>
<circle cx="324.8" cy="105.3" r="2.3" fill="#fff" stroke="#555" stroke-width="0.8"/>
<circle cx="352.5" cy="105.3" r="2.3" fill="#fff" stroke="#555" stroke-width="0.8"/>
<text x="305.3" y="107.6" font-size="7" text-anchor="start" class="s" textLength="14.0" lengthAdjust="spacingAndGlyphs">X1/1</text>
<text x="357.5" y="107.6" font-size="7" text-anchor="start" class="s" textLength="14.0" lengthAdjust="spacingAndGlyphs">X1/2</text>
<line x1="313.3" y1="142.0" x2="325.0" y2="160.8" stroke="#555" stroke-width="0.9"/>
<line x1="325.0" y1="160.8" x2="325.0" y2="243.6" stroke="#787878" stroke-width="1.2"/>
<text x="320.5" y="144.8" font-size="7" text-anchor="start" class="s" textLength="8.3" lengthAdjust="spacingAndGlyphs">X1</text>
<text x="306.2" y="158.0" font-size="7" text-anchor="start" class="s" textLength="10.2" lengthAdjust="spacingAndGlyphs">-Q1</text>
<text x="331.7" y="163.3" font-size="7" text-anchor="start" class="s">2</text>
<line x1="352.5" y1="215.6" x2="409.5" y2="215.6" stroke="#787878" stroke-width="1.2"/>
<line x1="325.0" y1="243.6" x2="409.5" y2="243.6" stroke="#787878" stroke-width="1.2"/>
<line x1="382.4" y1="215.6" x2="382.4" y2="243.6" stroke="#787878" stroke-width="1.0"/>
<circle cx="382.4" cy="229" r="4.0" fill="#fff" stroke="#444" stroke-width="0.8"/>
<line x1="379.6" y1="226.2" x2="385.2" y2="231.8" stroke="#444" stroke-width="0.7"/>
<line x1="379.6" y1="231.8" x2="385.2" y2="226.2" stroke="#444" stroke-width="0.7"/>
<text x="362.3" y="230.8" font-size="7" text-anchor="start" class="s" textLength="12.0" lengthAdjust="spacingAndGlyphs">-H|1</text>
<rect x="409.5" y="207.4" width="36.5" height="45" fill="none" stroke="#787878" stroke-width="1.1"/>
<text x="417.6" y="223.6" font-size="6.6" text-anchor="start" class="c">脉</text>
<text x="431.6" y="223.6" font-size="6.6" text-anchor="start" class="c">冲</text>
<text x="427.8" y="240.6" font-size="6.6" text-anchor="middle" class="c" textLength="20.4" lengthAdjust="spacingAndGlyphs">控制仪</text>
<line x1="446.0" y1="215.6" x2="490.4" y2="215.6" stroke="#787878" stroke-width="1.2"/>
<line x1="446.0" y1="243.6" x2="490.4" y2="243.6" stroke="#787878" stroke-width="1.2"/>
<line x1="490.4" y1="215.6" x2="490.4" y2="243.6" stroke="#787878" stroke-width="1.0"/>
<rect x="484" y="227.4" width="10" height="5.6" fill="#fff" stroke="#555" stroke-width="0.8"/>
<text x="493.0" y="223.0" font-size="7" text-anchor="start" class="s" textLength="8.0" lengthAdjust="spacingAndGlyphs">A1</text>
<text x="496.0" y="232.5" font-size="7" text-anchor="start" class="s" textLength="10.0" lengthAdjust="spacingAndGlyphs">-K1</text>
<text x="493.0" y="241.5" font-size="7" text-anchor="start" class="s" textLength="8.0" lengthAdjust="spacingAndGlyphs">A2</text>
<text x="460.0" y="99.7" font-size="7" text-anchor="start" class="s" textLength="13.5" lengthAdjust="spacingAndGlyphs">X1/5</text>
<text x="486.3" y="99.7" font-size="7" text-anchor="start" class="s" textLength="13.7" lengthAdjust="spacingAndGlyphs">X1/6</text>
<circle cx="467" cy="106.7" r="2.4" fill="#fff" stroke="#555" stroke-width="0.8"/>
<circle cx="494.3" cy="106.7" r="2.4" fill="#fff" stroke="#555" stroke-width="0.8"/>
<line x1="467.3" y1="109.1" x2="467.3" y2="138.3" stroke="#787878" stroke-width="1.0"/>
<line x1="455.8" y1="143.0" x2="467.5" y2="164.2" stroke="#555" stroke-width="0.9"/>
<polyline points="467.5,164.2 467.5,189.2 494.4,189.2 494.4,109.1" fill="none" stroke="#787878" stroke-width="1.0"/>
<text x="475.8" y="143.0" font-size="7" text-anchor="start" class="s">13</text>
<text x="475.8" y="162.5" font-size="7" text-anchor="start" class="s">14</text>
<text x="449.2" y="158.7" font-size="7" text-anchor="start" class="s" textLength="10.5" lengthAdjust="spacingAndGlyphs">-K1</text>
</g>
<defs><filter id="soft2" filterUnits="userSpaceOnUse" x="0" y="0" width="600" height="450"><feGaussianBlur stdDeviation="0.45"/></filter><filter id="soft" filterUnits="userSpaceOnUse" x="0" y="0" width="600" height="450"><feGaussianBlur stdDeviation="0.22"/></filter></defs>
</svg>
</body></html>
